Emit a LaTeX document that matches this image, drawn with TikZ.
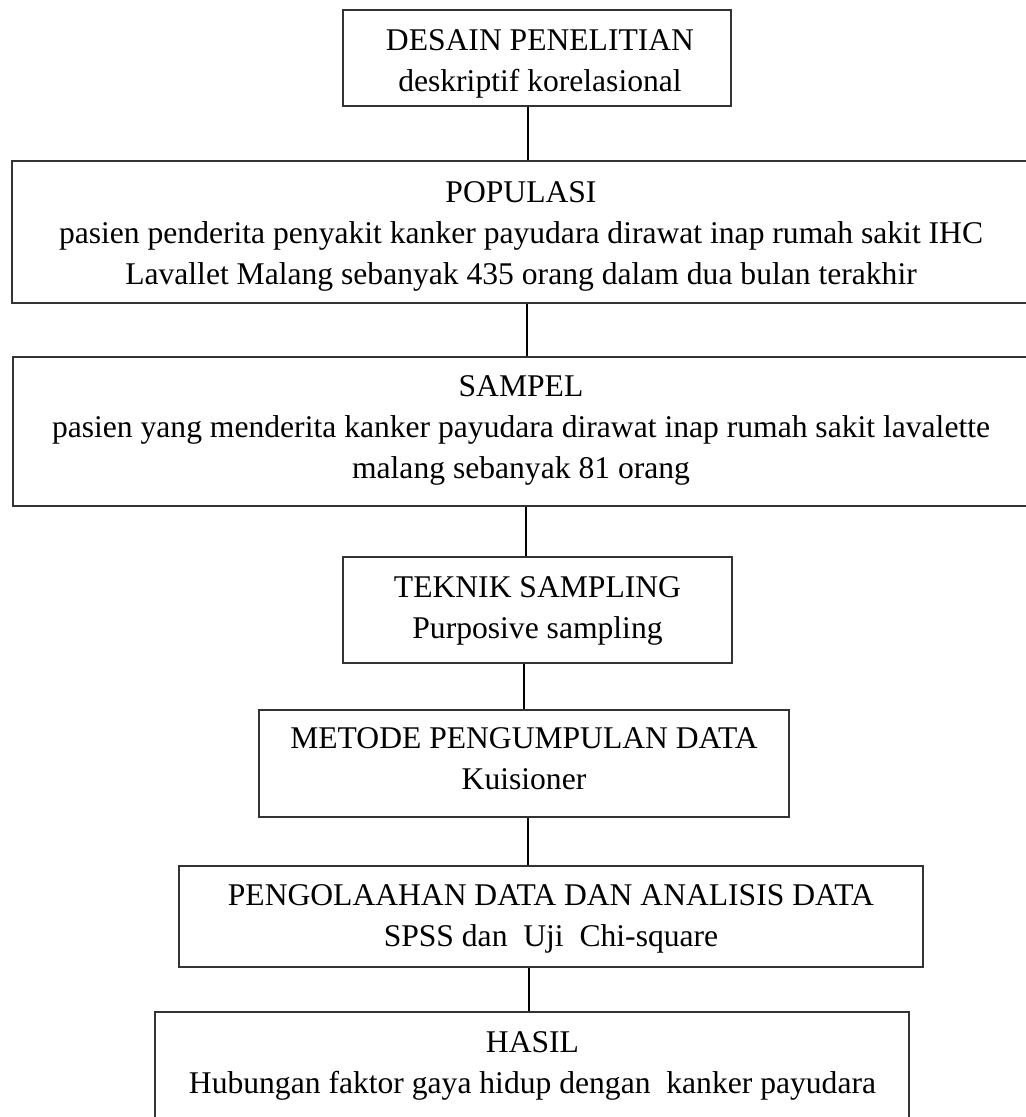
\documentclass[tikz,border=0pt]{standalone}
\usepackage{fontspec}
\setmainfont{Liberation Serif}
\begin{document}
\begin{tikzpicture}[x=0.5pt,y=-0.5pt,
  box/.style={draw=black!80, line width=0.6pt, rectangle, inner sep=0pt},
  conn/.style={draw=black, line width=0.9pt},
  lbl/.style={align=center, inner sep=0pt, font=\fontsize{15.8pt}{20.5pt}\selectfont}]
\useasboundingbox (0,0) rectangle (1025,1117);
% boxes
\node[box, minimum width=194pt, minimum height=48pt] (b1) at (537,58) {};
\node[box, minimum width=509pt, minimum height=71pt] (b2) at (521,232) {};
\node[box, minimum width=508.5pt, minimum height=74.5pt] (b3) at (521.5,431.5) {};
\node[box, minimum width=194.5pt, minimum height=53pt] (b4) at (537.5,610) {};
\node[box, minimum width=265pt, minimum height=53.5pt] (b5) at (524,763.5) {};
\node[box, minimum width=372pt, minimum height=50.5pt] (b6) at (551,916.5) {};
\node[box, minimum width=377pt, minimum height=55pt] (b7) at (532,1067) {};
% texts
\node[lbl] (t1) at (540,63.5) {DESAIN PENELITIAN\\deskriptif korelasional};
\node[lbl] (t2) at (521,236.5) {POPULASI\\pasien penderita penyakit kanker payudara dirawat inap rumah sakit IHC\\Lavallet Malang sebanyak 435 orang dalam dua bulan terakhir};
\node[lbl] (t3) at (521,430) {SAMPEL\\pasien yang menderita kanker payudara dirawat inap rumah sakit lavalette\\malang sebanyak 81 orang};
\node[lbl] (t4) at (537.5,611) {TEKNIK SAMPLING\\Purposive sampling};
\node[lbl] (t5) at (524,759) {METODE PENGUMPULAN DATA\\Kuisioner};
\node[lbl] (t6) at (551,919) {PENGOLAAHAN DATA DAN ANALISIS DATA\\SPSS dan\ \ Uji\ \ Chi-square};
\node[lbl] (t7) at (532.5,1065.5) {HASIL\\Hubungan faktor gaya hidup dengan\ \ kanker payudara};
% connector x positions
\coordinate (k1) at (528,0);
\coordinate (k2) at (527,0);
\coordinate (k3) at (526,0);
\coordinate (k4) at (524,0);
\coordinate (k5) at (528,0);
\coordinate (k6) at (529,0);
\draw[conn] (k1 |- b1.south) -- (k1 |- b2.north);
\draw[conn] (k2 |- b2.south) -- (k2 |- b3.north);
\draw[conn] (k3 |- b3.south) -- (k3 |- b4.north);
\draw[conn] (k4 |- b4.south) -- (k4 |- b5.north);
\draw[conn] (k5 |- b5.south) -- (k5 |- b6.north);
\draw[conn] (k6 |- b6.south) -- (k6 |- b7.north);
\end{tikzpicture}
\end{document}
